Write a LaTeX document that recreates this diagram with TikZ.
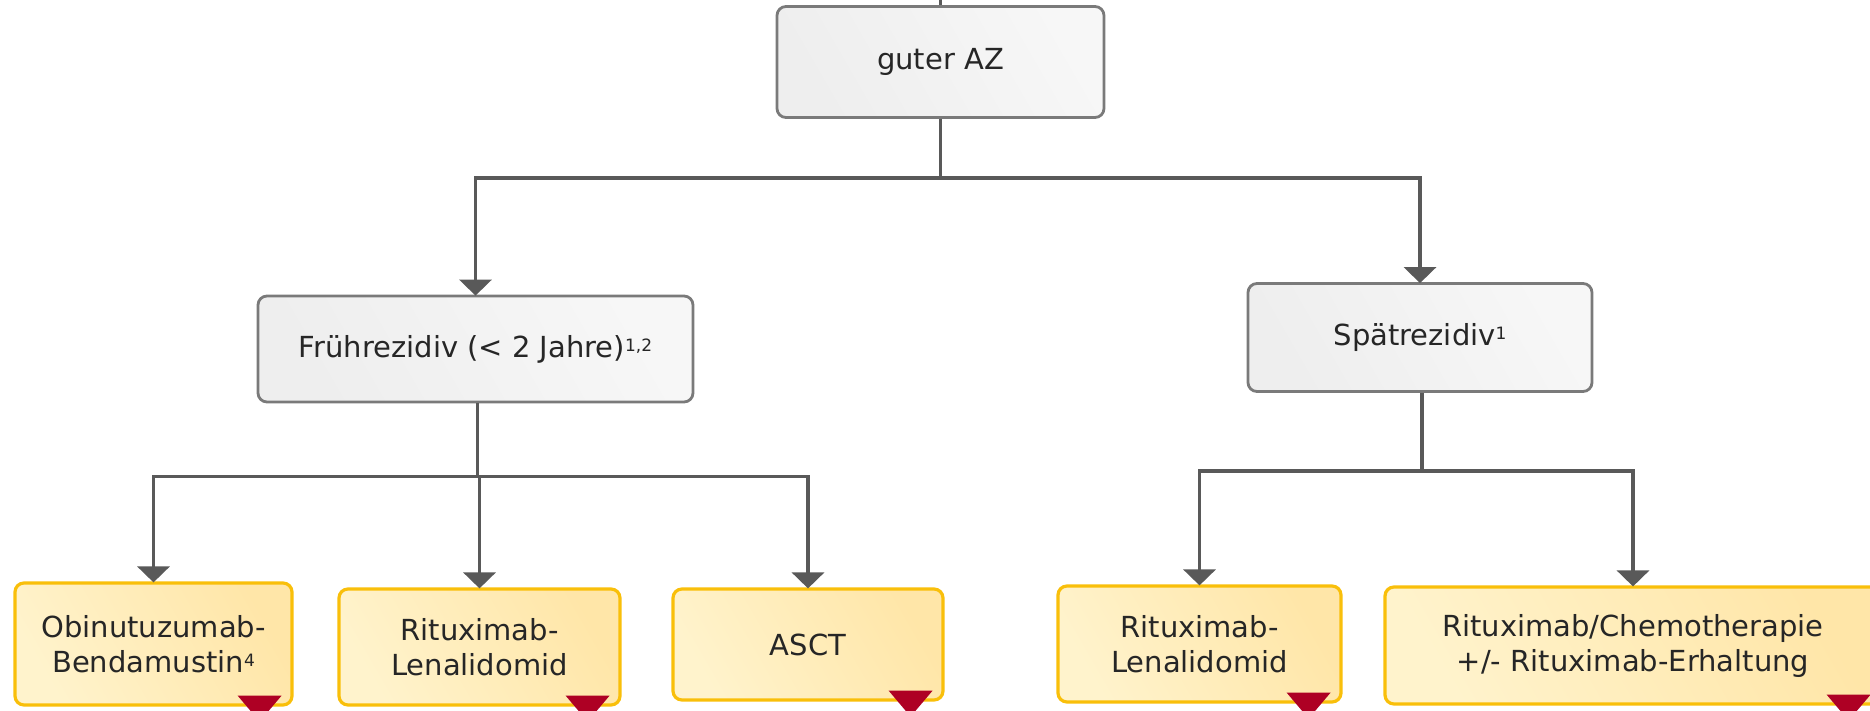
\documentclass[tikz,border=0pt]{standalone}
\usepackage{fontspec}
\setmainfont{DejaVu Sans}
\usetikzlibrary{arrows.meta,calc}
\definecolor{connc}{HTML}{595959}
\definecolor{grayborder}{HTML}{7A7A7A}
\definecolor{grayA}{HTML}{EEEEEE}
\definecolor{grayB}{HTML}{F7F7F7}
\definecolor{yelborder}{HTML}{F9BF0A}
\definecolor{yelA}{HTML}{FFF3CC}
\definecolor{yelB}{HTML}{FFE6A8}
\definecolor{redm}{HTML}{AE0024}
\definecolor{txt}{HTML}{262626}
\newcommand\supx[1]{\raisebox{6pt}{\fontsize{17}{17}\selectfont #1}}
\newcommand\redmark[1]{\fill[redm] ([xshift=-12pt,yshift=11pt]#1.south east) -- ++(-44pt,0pt) -- ++(22pt,-26pt) -- cycle;}
\begin{document}
\begin{tikzpicture}[x=1pt,y=-1pt,
  box/.style={rectangle, rounded corners=9pt, inner sep=0pt, align=center,
    text=txt, font=\fontsize{29}{35}\selectfont},
  graybox/.style={box, draw=grayborder, line width=2.8pt,
    left color=grayA, right color=grayB, shading angle=120},
  yellowbox/.style={box, draw=yelborder, line width=3.2pt,
    left color=yelA, right color=yelB, shading angle=120},
  conn/.style={draw=connc, line width=3.6pt},
  arr/.style={conn, -{Triangle[width=32pt,length=16pt]}, shorten >=-1pt}]
\clip (0,0) rectangle (1870,710);
\fill[white] (0,0) rectangle (1870,710);

% nodes
\node[graybox, minimum width=327pt, minimum height=111pt] (top) at (940.5,62) {guter AZ};
\node[graybox, minimum width=435pt, minimum height=106pt] (fr) at (475.5,349) {Frührezidiv (< 2 Jahre)\supx{1,2}};
\node[graybox, minimum width=344pt, minimum height=108pt] (sp) at (1420,337.5) {Spätrezidiv\supx{1}};

\node[yellowbox, minimum width=277pt, minimum height=122pt] (ob) at (153.5,644) {Obinutuzumab-\\Bendamustin\supx{4}};
\node[yellowbox, minimum width=281pt, minimum height=116pt] (ri1) at (479.5,647) {Rituximab-\\Lenalidomid};
\node[yellowbox, minimum width=270pt, minimum height=111pt] (asct) at (808,644.5) {ASCT};
\node[yellowbox, minimum width=283pt, minimum height=116pt] (ri2) at (1199.5,644) {Rituximab-\\Lenalidomid};
\node[yellowbox, minimum width=496pt, minimum height=117pt] (rc) at (1633,645.5) {Rituximab/Chemotherapie\\+/- Rituximab-Erhaltung};

\redmark{ob}
\redmark{ri1}
\redmark{asct}
\redmark{ri2}
\redmark{rc}

% connectors
\coordinate (in) at (940.5,0);
\draw[conn] (in) -- (top.north);
\coordinate (j1) at (940.5,178);
\draw[conn] (top.south) -- (j1);
\draw[arr] (j1) -| (fr.north);
\draw[arr] (j1) -| (sp.north);

\coordinate (j2) at ($(fr.south)+(2,73)$);
\draw[conn] (fr.south -| j2) -- (j2);
\draw[arr] (j2) -| (ob.north);
\draw[arr] (j2) -| (ri1.north);
\draw[arr] (j2) -| (asct.north);

\coordinate (j3) at ($(sp.south)+(2,78)$);
\draw[conn] (sp.south -| j3) -- (j3);
\draw[arr] (j3) -| (ri2.north);
\draw[arr] (j3) -| (rc.north);
\end{tikzpicture}
\end{document}
